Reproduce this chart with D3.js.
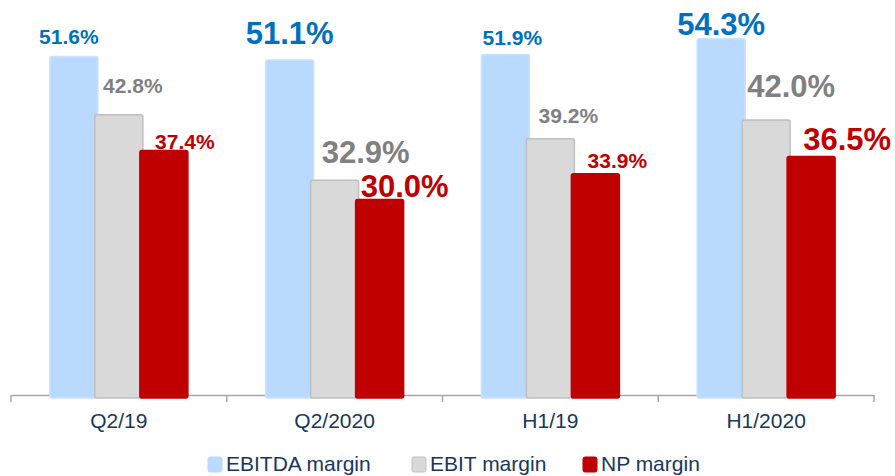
<!DOCTYPE html>
<html><head><meta charset="utf-8">
<script src="https://cdn.jsdelivr.net/npm/d3@7"></script>
<style>html,body{margin:0;padding:0;background:#fff;}svg{display:block;font-family:"Liberation Sans",Arial,sans-serif;}</style>
</head><body>
<svg id="c" width="895" height="476"></svg>
<script>
const categories = ["Q2/19", "Q2/2020", "H1/19", "H1/2020"];
const seriesNames = ["EBITDA margin", "EBIT margin", "NP margin"];
const ebitda = [51.6, 51.1, 51.9, 54.3];
const ebit = [42.8, 32.9, 39.2, 42.0];
const np = [37.4, 30.0, 33.9, 36.5];
const seriesValues = [ebitda, ebit, np];

const fills = ["#B9DAFE", "#D9D9D9", "#C00000"];
const strokes = ["#C9E2FE", "#BFBFBF", "#C00000"];
const labelColors = ["#0070C0", "#808080", "#C00000"];
const bigLabel = [false, true, false, true];
// manual data-label nudges [dx from bar centre, dy from bar top] per series per category
const nudge = [
  [[-5, -13], [0, -16], [7, -10], [0, -4]],
  [[14, -22], [31, -17], [18, -16], [25, -23]],
  [[21, -2], [25, -3], [22, -6], [36, -6]]
];

const svg = d3.select("#c");
const x = d3.scaleBand().domain(categories).range([11, 874]);
const inner = d3.scalePoint().domain(seriesNames).range([-45, 45]);
const y = d3.scaleLinear().domain([0, 60]).range([398, 1]);
const barW = 48;

// axis
const axisY = 395;
const axis = d3.axisBottom(x).tickSize(0).tickFormat("");
const ag = svg.append("g").attr("transform", `translate(0,${axisY})`).call(axis);
ag.select(".domain").attr("stroke", "#A6A6A6").attr("stroke-width", 1.5);
const bounds = categories.map(c => x(c)).concat([x(categories[categories.length-1]) + x.bandwidth()]);
svg.append("g").selectAll("line").data(bounds).join("line")
  .attr("x1", d => d).attr("x2", d => d).attr("y1", axisY).attr("y2", axisY + 7)
  .attr("stroke", "#A6A6A6").attr("stroke-width", 1.5);

// bars
seriesNames.forEach((s, si) => {
  svg.append("g").selectAll("rect").data(categories).join("rect")
    .attr("x", c => x(c) + x.bandwidth() / 2 + inner(s) - barW / 2)
    .attr("y", (c, i) => y(seriesValues[si][i]))
    .attr("width", barW)
    .attr("height", (c, i) => y(0) - y(seriesValues[si][i]))
    .attr("rx", 2)
    .attr("fill", fills[si])
    .attr("stroke", strokes[si])
    .attr("stroke-width", 1.5);
});

// labels
seriesNames.forEach((s, si) => {
  svg.append("g").selectAll("text").data(categories).join("text")
    .attr("x", (c, i) => x(c) + x.bandwidth() / 2 + inner(s) + nudge[si][i][0])
    .attr("y", (c, i) => y(seriesValues[si][i]) + nudge[si][i][1])
    .attr("text-anchor", "middle")
    .attr("font-weight", "bold")
    .attr("font-size", (c, i) => bigLabel[i] ? 31 : 21)
    .attr("fill", labelColors[si])
    .text((c, i) => seriesValues[si][i].toFixed(1) + "%");
});

// category labels
svg.append("g").selectAll("text").data(categories).join("text")
  .attr("x", c => x(c) + x.bandwidth() / 2)
  .attr("y", 428)
  .attr("text-anchor", "middle")
  .attr("font-size", 21)
  .attr("fill", "#17375E")
  .text(c => c);

// legend
const lg = svg.append("g");
const swX = [208, 412, 583];
seriesNames.forEach((s, si) => {
  lg.append("rect").attr("x", swX[si]).attr("y", 457).attr("width", 14).attr("height", 15)
    .attr("rx", 2).attr("fill", fills[si]).attr("stroke", si === 1 ? "#BFBFBF" : fills[si]);
  lg.append("text").attr("x", swX[si] + 18).attr("y", 471).attr("font-size", 21)
    .attr("fill", "#17375E").text(s);
});
</script>
</body></html>
